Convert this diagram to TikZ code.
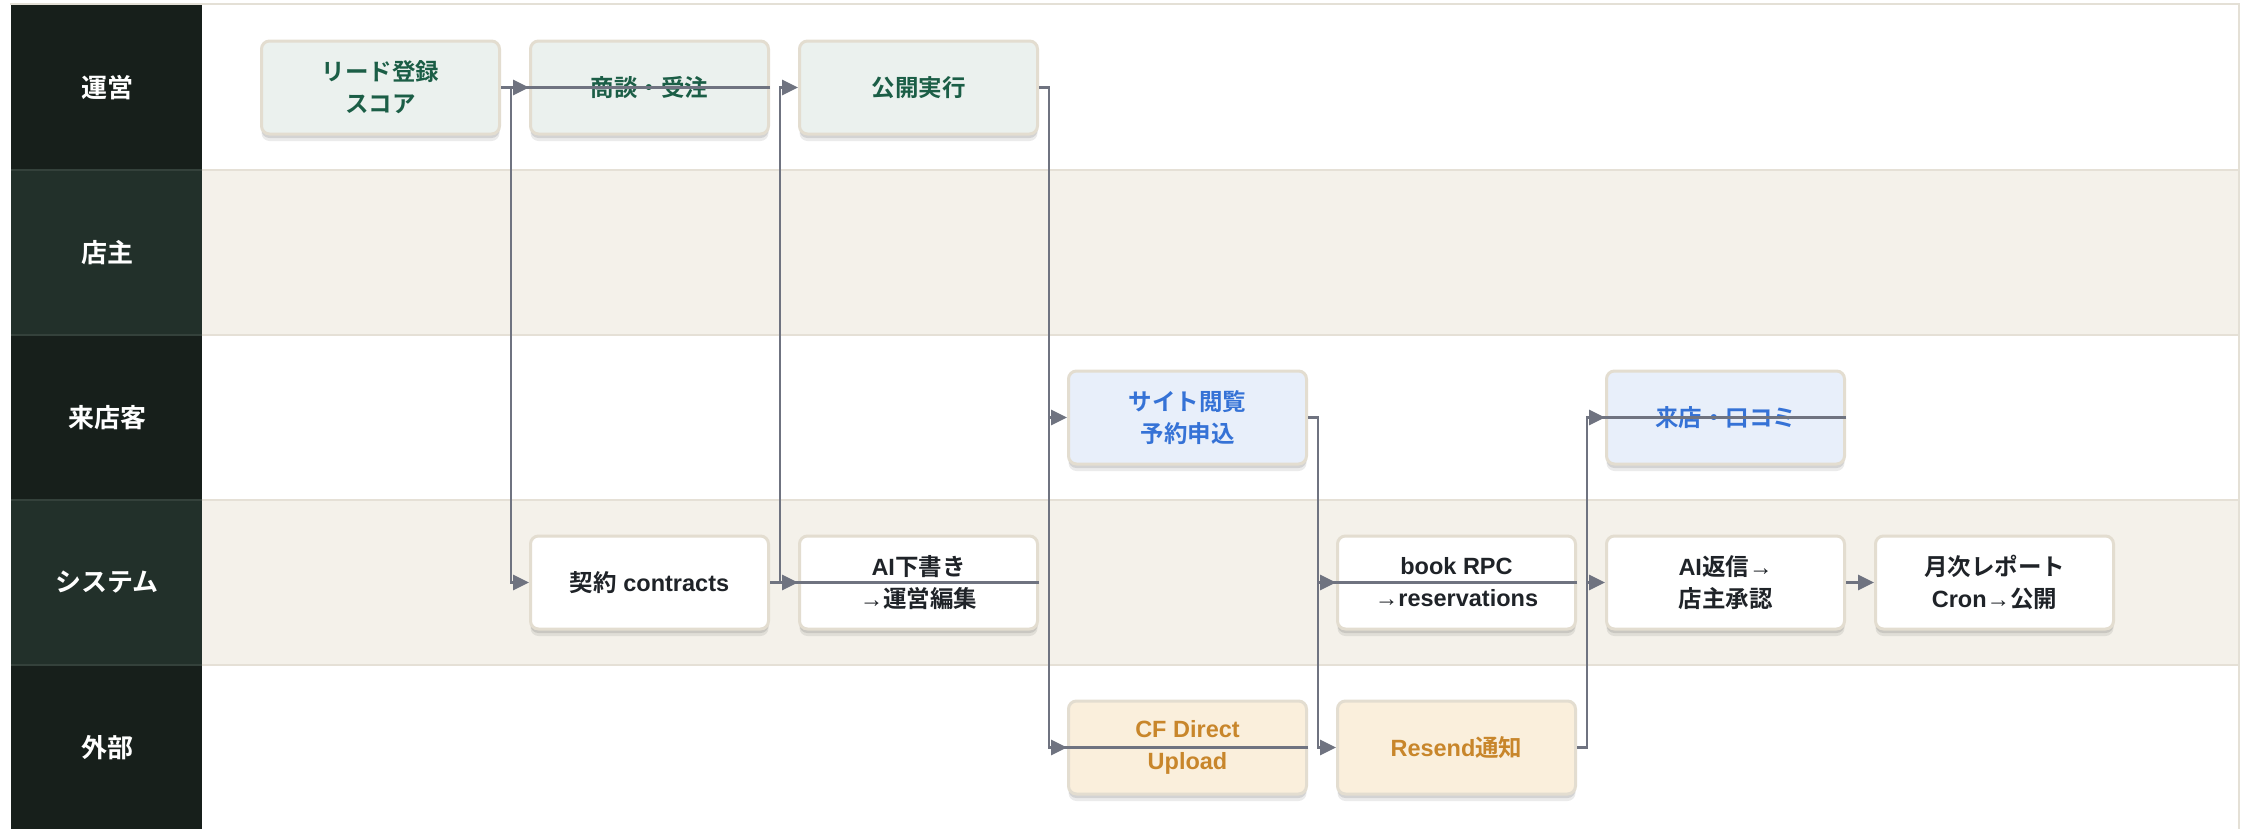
\documentclass[tikz,border=0pt]{standalone}
\usepackage{fontspec}
\setmainfont{Liberation Sans}
\newfontfamily\cjk{Noto Sans CJK JP}[BoldFont={Noto Sans CJK JP Bold}]
\usetikzlibrary{arrows.meta,shadows}
\definecolor{hdA}{HTML}{171F1B}
\definecolor{hdB}{HTML}{22302A}
\definecolor{hdline}{HTML}{34413B}
\definecolor{laneb}{HTML}{F4F1EA}
\definecolor{sepc}{HTML}{E5E0D6}
\definecolor{framec}{HTML}{E4E0D6}
\definecolor{boxline}{HTML}{E3DDD0}
\definecolor{opsfill}{HTML}{EBF1EE}
\definecolor{opstext}{HTML}{1B5E46}
\definecolor{cusfill}{HTML}{E8EFFA}
\definecolor{custext}{HTML}{3572D6}
\definecolor{systext}{HTML}{1F2328}
\definecolor{extfill}{HTML}{FAEFDC}
\definecolor{exttext}{HTML}{C8862B}
\definecolor{edgec}{HTML}{6F7380}
\begin{document}
\begin{tikzpicture}[x=1pt,y=-1pt,
  box/.style={rectangle, rounded corners=8pt, draw=boxline, line width=3pt,
    minimum width=238pt, minimum height=93pt, align=center, inner sep=2pt,
    font=\fontsize{23.5}{32}\selectfont\bfseries,
    drop shadow={shadow xshift=0pt, shadow yshift=-7pt, opacity=0.08, fill=black},
    drop shadow={shadow xshift=0pt, shadow yshift=-4pt, opacity=0.10, fill=black}},
  ops/.style={box, fill=opsfill, text=opstext},
  cus/.style={box, fill=cusfill, text=custext},
  sys/.style={box, fill=white, text=systext},
  ext/.style={box, fill=extfill, text=exttext},
  lanehead/.style={text=white, font=\fontsize{26}{30}\selectfont\bfseries\cjk},
  flow/.style={draw=edgec, line width=2.8pt, line join=miter, -{Triangle[length=16pt,width=15pt]}},
  sepline/.style={draw=sepc, line width=2pt},
  hdsep/.style={draw=hdline, line width=1.5pt}
]
\useasboundingbox (0,0) rectangle (2252,828);
\fill[white] (0,0) rectangle (2252,828);
% lanes
\fill[white] (202,5) rectangle (2238,170);
\fill[laneb] (202,170) rectangle (2238,335);
\fill[white] (202,335) rectangle (2238,500);
\fill[laneb] (202,500) rectangle (2238,665);
\fill[white] (202,665) rectangle (2238,835);
\draw[sepline] (202,170) -- (2238,170);
\draw[sepline] (202,335) -- (2238,335);
\draw[sepline] (202,500) -- (2238,500);
\draw[sepline] (202,665) -- (2238,665);
% headers
\fill[hdA] (11,5) rectangle (202,170);
\fill[hdB] (11,170) rectangle (202,335);
\fill[hdA] (11,335) rectangle (202,500);
\fill[hdB] (11,500) rectangle (202,665);
\fill[hdA] (11,665) rectangle (202,835);
\draw[hdsep] (11,170) -- (202,170);
\draw[hdsep] (11,335) -- (202,335);
\draw[hdsep] (11,500) -- (202,500);
\draw[hdsep] (11,665) -- (202,665);
\draw[draw=framec, line width=2.5pt] (10,4) -- (2239,4) -- (2239,835);
\node[lanehead] (h1) at (107,87.5) {運営};
\node[lanehead] (h2) at (107,252.5) {店主};
\node[lanehead] (h3) at (107,417.5) {来店客};
\node[lanehead] (h4) at (107,582.5) {システム};
\node[lanehead] (h5) at (107,747.5) {外部};
% nodes
\node[ops] (n1) at (380.5,87.5) {\cjk リード登録\\\cjk スコア};
\node[ops] (n2) at (649.5,87.5) {\cjk 商談・受注};
\node[ops] (n3) at (918.5,87.5) {\cjk 公開実行};
\node[cus] (n4) at (1187.5,417.5) {\cjk サイト閲覧\\\cjk 予約申込};
\node[cus] (n5) at (1725.5,417.5) {\cjk 来店・口コミ};
\node[sys] (n6) at (649.5,582.5) {{\cjk 契約} contracts};
\node[sys] (n7) at (918.5,582.5) {AI{\cjk 下書き}\\→{\cjk 運営編集}};
\node[sys] (n8) at (1456.5,582.5) {book RPC\\→reservations};
\node[sys] (n9) at (1725.5,582.5) {AI{\cjk 返信}→\\\cjk 店主承認};
\node[sys] (n10) at (1994.5,582.5) {{\cjk 月次レポート}\\Cron→{\cjk 公開}};
\node[ext] (n11) at (1187.5,747.5) {CF Direct\\Upload};
\node[ext] (n12) at (1456.5,747.5) {Resend{\cjk 通知}};
% connectors
\draw[flow] (n1.east) -- (n2.west);
\draw[flow] (n2.east) -| ([xshift=-18pt]n6.west) -- (n6.west);
\draw[flow] (n6.east) -- (n7.west);
\draw[flow] (n7.east) -| ([xshift=-18pt]n3.west) -- (n3.west);
\draw[flow] (n3.east) -| ([xshift=-18pt]n11.west) -- (n11.west);
\draw[flow] (n11.east) -| ([xshift=-18pt]n4.west) -- (n4.west);
\draw[flow] (n4.east) -| ([xshift=-18pt]n8.west) -- (n8.west);
\draw[flow] (n8.east) -| ([xshift=-18pt]n12.west) -- (n12.west);
\draw[flow] (n12.east) -| ([xshift=-18pt]n5.west) -- (n5.west);
\draw[flow] (n5.east) -| ([xshift=-18pt]n9.west) -- (n9.west);
\draw[flow] (n9.east) -- (n10.west);
\end{tikzpicture}
\end{document}
